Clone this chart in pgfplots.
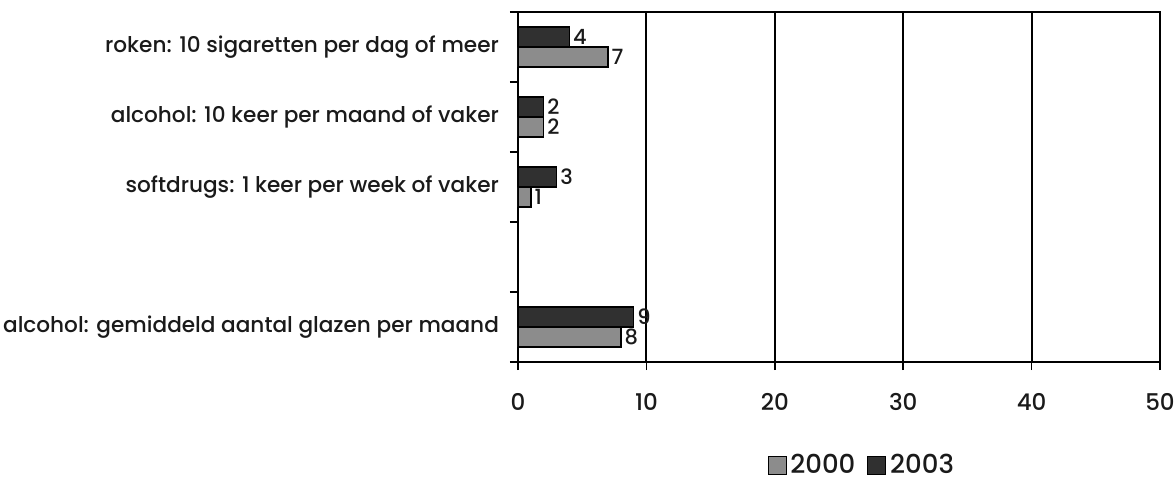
\documentclass[border=0pt]{standalone}
\usepackage{fontspec}
\setmainfont{Poppins Medium}
\usepackage{pgfplots}
\pgfplotsset{compat=1.18}
\definecolor{dark}{HTML}{303030}
\definecolor{light}{HTML}{8C8C8C}
\definecolor{txt}{HTML}{1A1A1A}
\begin{document}
\begin{tikzpicture}
\path[use as bounding box] (-259pt,-62.5pt) rectangle (329pt,181pt);
\begin{axis}[
    at={(0,0)}, anchor=south west,
    scale only axis, width=321pt, height=175pt,
    xbar, bar width=10pt,
    xmin=0, xmax=50, ymin=-0.5, ymax=4.5,
    xtick={0,10,...,50},
    ytick={-0.5,0.5,1.5,2.5,3.5,4.5},
    yticklabels={alcohol: gemiddeld aantal glazen per maand,,softdrugs: 1 keer per week of vaker,alcohol: 10 keer per maand of vaker,roken: 10 sigaretten per dag of meer,},
    yticklabel style={yshift=17.5pt, xshift=-2pt, font=\fontsize{10.8}{13}\selectfont, text=txt},
    xticklabel style={yshift=-8pt, font=\fontsize{11.5}{13}\selectfont, text=txt},
    /pgf/number format/assume math mode=true,
    tick align=outside, tick pos=left, major tick length=4pt,
    tick style={black, line width=0.8pt},
    axis line style={black, line width=0.8pt},
    xmajorgrids, grid style={black, line width=1pt},
    nodes near coords,
    every node near coord/.append style={font=\fontsize{10.5}{12}\selectfont, text=txt, inner sep=1.5pt},
    legend style={at={(0.537,-0.294)}, anchor=center, draw=none, fill=none,
        legend columns=2, font=\fontsize{13}{15}\selectfont, text=txt},
    /tikz/every even column/.append style={column sep=4pt},
    legend image code/.code={\draw[#1, draw=black, line width=0.4pt] (0pt,-4.5pt) rectangle (9pt,4.5pt);},
]
\addplot[fill=light, draw=black, line width=0.8pt, bar shift=-5pt] coordinates {
    (8,0) (1,2) (2,3) (7,4)
};
\addlegendentry{2000}
\addplot[fill=dark, draw=black, line width=0.8pt, bar shift=5pt] coordinates {
    (9,0) (3,2) (2,3) (4,4)
};
\addlegendentry{2003}
\end{axis}
\end{tikzpicture}
\end{document}
